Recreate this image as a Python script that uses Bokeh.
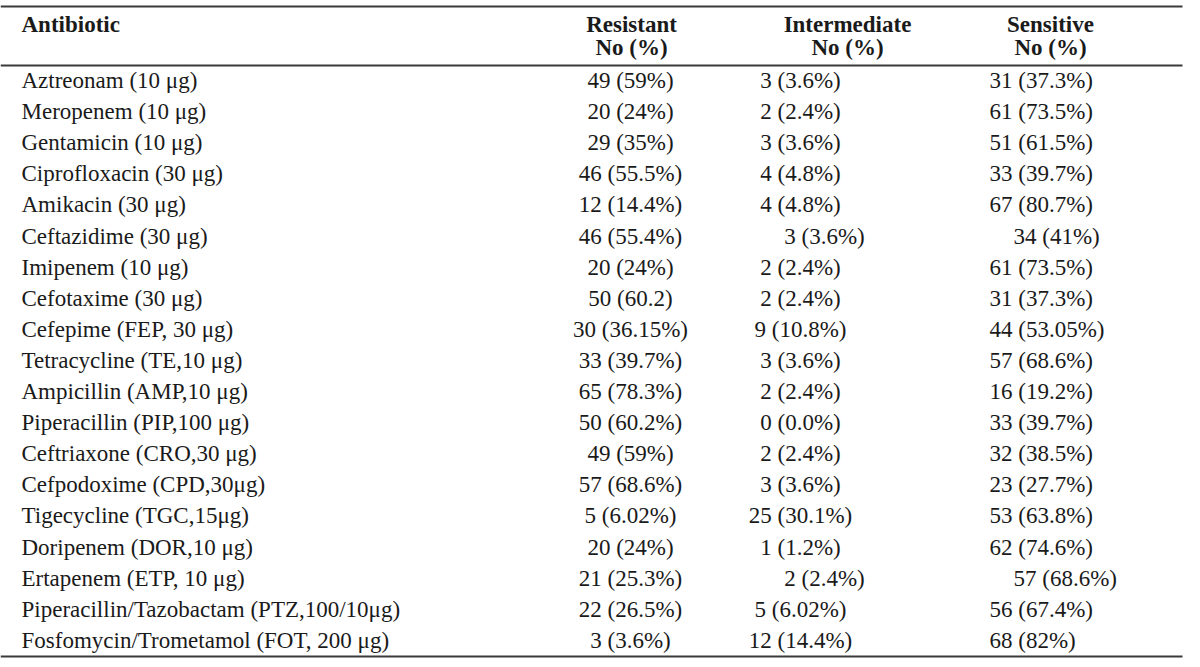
from bokeh.plotting import figure
from bokeh.models import ColumnDataSource, Range1d
from bokeh.core.properties import value
from bokeh.embed import file_html
from bokeh.resources import INLINE

# ---- data ----
antibiotics = [
    "Aztreonam (10 μg)", "Meropenem (10 μg)", "Gentamicin (10 μg)",
    "Ciprofloxacin (30 μg)", "Amikacin (30 μg)", "Ceftazidime (30 μg)",
    "Imipenem (10 μg)", "Cefotaxime (30 μg)", "Cefepime (FEP, 30 μg)",
    "Tetracycline (TE,10 μg)", "Ampicillin (AMP,10 μg)", "Piperacillin (PIP,100 μg)",
    "Ceftriaxone (CRO,30 μg)", "Cefpodoxime (CPD,30μg)", "Tigecycline (TGC,15μg)",
    "Doripenem (DOR,10 μg)", "Ertapenem (ETP, 10 μg)",
    "Piperacillin/Tazobactam (PTZ,100/10μg)", "Fosfomycin/Trometamol (FOT, 200 μg)",
]
resistant = [
    "49 (59%)", "20 (24%)", "29 (35%)", "46 (55.5%)", "12 (14.4%)", "46 (55.4%)",
    "20 (24%)", "50 (60.2)", "30 (36.15%)", "33 (39.7%)", "65 (78.3%)", "50 (60.2%)",
    "49 (59%)", "57 (68.6%)", "5 (6.02%)", "20 (24%)", "21 (25.3%)", "22 (26.5%)",
    "3 (3.6%)",
]
intermediate = [
    "3 (3.6%)", "2 (2.4%)", "3 (3.6%)", "4 (4.8%)", "4 (4.8%)", "3 (3.6%)",
    "2 (2.4%)", "2 (2.4%)", "9 (10.8%)", "3 (3.6%)", "2 (2.4%)", "0 (0.0%)",
    "2 (2.4%)", "3 (3.6%)", "25 (30.1%)", "1 (1.2%)", "2 (2.4%)", "5 (6.02%)",
    "12 (14.4%)",
]
sensitive = [
    "31 (37.3%)", "61 (73.5%)", "51 (61.5%)", "33 (39.7%)", "67 (80.7%)", "34 (41%)",
    "61 (73.5%)", "31 (37.3%)", "44 (53.05%)", "57 (68.6%)", "16 (19.2%)", "33 (39.7%)",
    "32 (38.5%)", "23 (27.7%)", "53 (63.8%)", "62 (74.6%)", "57 (68.6%)", "56 (67.4%)",
    "68 (82%)",
]
header_main = ["Antibiotic", "Resistant", "Intermediate", "Sensitive"]
header_sub = ["", "No (%)", "No (%)", "No (%)"]

# ---- layout (pixels within the figure) ----
W, H = 1184, 658
FONT = value("Liberation Serif")
SIZE = "23px"
COLOR = "#1a1a1a"
ROW0, ROWSTEP = 80, 31.1
X_NAME = 21
X_RES = 630          # centre
X_INT = 800          # centre
X_SEN = 989          # left
HDR_X = [21, 631, 847, 1050]
HDR_ALIGN = ["left", "center", "center", "center"]
HDR_Y1, HDR_Y2 = 24, 47
INDENT_ROWS = [5, 16]   # rows typeset shifted to the right in the original
INDENT = 24
RULES = [(6, 2.2), (65, 2.2), (656, 2.2)]

p = figure(width=W, height=H, x_range=Range1d(0, W), y_range=Range1d(H, 0),
           output_backend="svg", toolbar_location=None, min_border=0,
           x_axis_type=None, y_axis_type=None)
p.grid.visible = False
p.outline_line_color = None
p.background_fill_color = "white"
p.border_fill_color = "white"

# rules
for y, lw in RULES:
    p.line([0, W - 2], [y, y], line_color="#3a3a3a", line_width=lw)

# header
hsrc = ColumnDataSource(dict(x=HDR_X, y=[HDR_Y1] * 4, t=header_main, a=HDR_ALIGN))
p.text(x="x", y="y", text="t", text_align="a", source=hsrc, text_font=FONT,
       text_font_size=SIZE, text_font_style="bold", text_color=COLOR,
       text_baseline="alphabetic")
hsrc2 = ColumnDataSource(dict(x=HDR_X[1:], y=[HDR_Y2] * 3, t=header_sub[1:]))
p.text(x="x", y="y", text="t", text_align="center", source=hsrc2, text_font=FONT,
       text_font_size=SIZE, text_font_style="bold", text_color=COLOR,
       text_baseline="alphabetic")

n = len(antibiotics)
ys = [ROW0 + ROWSTEP * i for i in range(n)]
shift = [INDENT if i in INDENT_ROWS else 0 for i in range(n)]

def col(texts, x0, align, use_shift):
    xs = [x0 + (shift[i] if use_shift else 0) for i in range(n)]
    src = ColumnDataSource(dict(x=xs, y=ys, t=texts))
    p.text(x="x", y="y", text="t", source=src, text_align=align, text_font=FONT,
           text_font_size=SIZE, text_color=COLOR, text_baseline="alphabetic")

col(antibiotics, X_NAME, "left", False)
col(resistant, X_RES, "center", False)
col(intermediate, X_INT, "center", True)
col(sensitive, X_SEN, "left", True)

open("out.html", "w").write(file_html(p, INLINE))
